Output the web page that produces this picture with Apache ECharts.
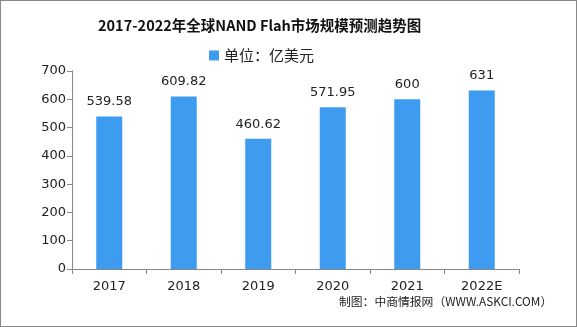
<!DOCTYPE html>
<html><head><meta charset="utf-8">
<script src="https://cdn.jsdelivr.net/npm/echarts@6/dist/echarts.min.js"></script>
<style>html,body{margin:0;padding:0;background:#fff}#c{width:577px;height:327px;box-sizing:border-box;border:1px solid #888}</style>
</head><body><div id="c"></div>
<script>
const categories = ['2017','2018','2019','2020','2021','2022E'];
const values = [539.58, 609.82, 460.62, 571.95, 600, 631];
const seriesName = '单位：亿美元';
const chart = echarts.init(document.getElementById('c'));
chart.setOption({
  animation: false,
  title: {
    text: '2017-2022年全球NAND Flah市场规模预测趋势图',
    left: 92, top: 12,
    textStyle: {fontFamily: 'Noto Sans CJK SC', fontSize: 14.5, fontWeight: 'bold', color: '#111'}
  },
  legend: {
    top: 42, left: 203, itemWidth: 10, itemHeight: 10, itemGap: 4,
    icon: 'rect',
    textStyle: {fontFamily: 'Noto Sans CJK SC', fontSize: 15, color: '#222'}
  },
  graphic: [{
    type: 'text', left: 338, top: 295,
    style: {text: '制图：中商情报网（WWW.ASKCI.COM）', font: '11.8px "Noto Sans CJK SC"', fill: '#222'}
  }],
  grid: {left: 71, right: 57, top: 70, bottom: 57},
  xAxis: {
    type: 'category', data: categories,
    axisLine: {lineStyle: {color: '#888'}},
    axisTick: {show: true, lineStyle: {color: '#888'}},
    axisLabel: {color: '#222', fontSize: 13, fontFamily: 'DejaVu Sans', margin: 11}
  },
  yAxis: {
    type: 'value', min: 0, max: 700, interval: 100,
    axisLine: {show: true, lineStyle: {color: '#888'}},
    axisTick: {show: true, lineStyle: {color: '#888'}},
    splitLine: {show: false},
    axisLabel: {color: '#222', fontSize: 13, fontFamily: 'DejaVu Sans', margin: 6}
  },
  series: [{
    name: seriesName, type: 'bar', data: values, barWidth: 26,
    itemStyle: {color: '#3d9cf0'},
    label: {show: true, position: 'top', distance: 8, color: '#222', fontSize: 13, fontFamily: 'DejaVu Sans'}
  }]
});
</script></body></html>
